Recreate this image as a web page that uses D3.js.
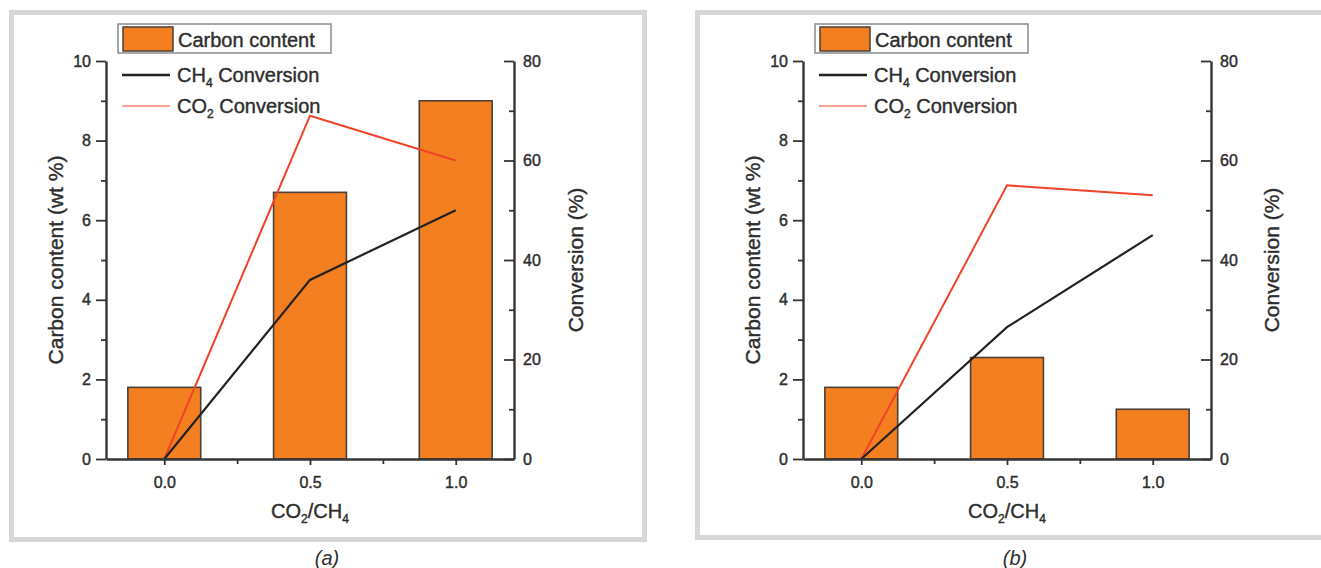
<!DOCTYPE html>
<html>
<head>
<meta charset="utf-8">
<script src="https://cdn.jsdelivr.net/npm/d3@7"></script>
<style>
  html, body { margin: 0; padding: 0; background: #ffffff; }
  svg { display: block; }
  text { font-family: "Liberation Sans", Arial, sans-serif; fill: #2e2e2e; }
</style>
</head>
<body>
<svg id="chart" width="1321" height="568"></svg>
<script>
// ---- data ----
const categories = [0.0, 0.5, 1.0];
const xTickLabels = ["0.0", "0.5", "1.0"];
const leftTicks = [0, 2, 4, 6, 8, 10];
const leftMinorTicks = [1, 3, 5, 7, 9];
const rightTicks = [0, 20, 40, 60, 80];
const rightMinorTicks = [10, 30, 50, 70];
const xMinorTicks = [0.25, 0.75];

const carbonA = [1.8, 6.7, 9.0];
const ch4A = [0, 36, 50];
const co2A = [0, 69, 60];

const carbonB = [1.8, 2.55, 1.25];
const ch4B = [0, 26.5, 45];
const co2B = [0, 55, 53];

const panels = [
  { carbon: carbonA, ch4: ch4A, co2: co2A, caption: "(a)" },
  { carbon: carbonB, ch4: ch4B, co2: co2B, caption: "(b)" }
];

// ---- layout ----
const svg = d3.select("#chart");
const ORANGE = "#f47f20";
const RED = "#f0432a";
const AXIS = "#353535";

const layouts = [
  { dx: 0,   frame: { x: 11.5, y: 12.5, w: 633, h: 527 }, captionX: 327, yTitleX: 56, rTitleX: 576 },
  { dx: 697, frame: { x: 697.5, y: 12.5, w: 640, h: 525 }, captionX: 1015, yTitleX: 753, rTitleX: 1272 }
];

panels.forEach((p, i) => {
  const L = layouts[i];
  const g = svg.append("g");

  // frame
  g.append("rect")
    .attr("x", L.frame.x).attr("y", L.frame.y)
    .attr("width", L.frame.w).attr("height", L.frame.h)
    .attr("fill", "none").attr("stroke", "#d7d7d7").attr("stroke-width", 5);

  const x = d3.scaleLinear().domain([-0.2, 1.2]).range([106 + L.dx, 514 + L.dx]);
  const yL = d3.scaleLinear().domain([0, 10]).range([459, 61]);
  const yR = d3.scaleLinear().domain([0, 80]).range([459, 61]);
  const barW = x(0.25) - x(0);

  // bars
  g.append("g").selectAll("rect").data(categories).join("rect")
    .attr("x", (d) => x(d) - barW / 2)
    .attr("y", (d, j) => yL(p.carbon[j]))
    .attr("width", barW)
    .attr("height", (d, j) => yL(0) - yL(p.carbon[j]))
    .attr("fill", ORANGE)
    .attr("stroke", "#4a4038").attr("stroke-width", 1.6);

  // lines
  const lineGen = (arr) => d3.line().x((d) => x(d)).y((d, j) => yR(arr[j]))(categories);
  g.append("path").attr("d", lineGen(p.co2))
    .attr("fill", "none").attr("stroke", RED).attr("stroke-width", 2);
  g.append("path").attr("d", lineGen(p.ch4))
    .attr("fill", "none").attr("stroke", "#222").attr("stroke-width", 2.2);

  // axes
  const styleAxis = (sel) => {
    sel.selectAll("path.domain").attr("stroke", AXIS).attr("stroke-width", 2.4);
    sel.selectAll(".tick line").attr("stroke", AXIS).attr("stroke-width", 1.8);
    sel.selectAll(".tick text").attr("font-size", 16).attr("fill", "#333")
      .attr("stroke", "#333").attr("stroke-width", 0.45)
      .attr("font-family", "Liberation Sans, Arial, sans-serif");
  };

  const gx = g.append("g").attr("transform", `translate(0,${yL(0)})`)
    .call(d3.axisBottom(x).tickValues(categories).tickFormat((d, j) => xTickLabels[j])
      .tickSize(6).tickSizeOuter(0).tickPadding(12));
  styleAxis(gx);
  const gxm = g.append("g").attr("transform", `translate(0,${yL(0)})`)
    .call(d3.axisBottom(x).tickValues(xMinorTicks).tickFormat("").tickSize(5).tickSizeOuter(0));
  gxm.select("path.domain").remove();
  styleAxis(gxm);

  const gyl = g.append("g").attr("transform", `translate(${x(-0.2)},0)`)
    .call(d3.axisLeft(yL).tickValues(leftTicks).tickFormat(d3.format("d"))
      .tickSize(10).tickSizeOuter(0).tickPadding(5));
  styleAxis(gyl);
  const gylm = g.append("g").attr("transform", `translate(${x(-0.2)},0)`)
    .call(d3.axisLeft(yL).tickValues(leftMinorTicks).tickFormat("").tickSize(5).tickSizeOuter(0));
  gylm.select("path.domain").remove();
  styleAxis(gylm);

  const gyr = g.append("g").attr("transform", `translate(${x(1.2)},0)`)
    .call(d3.axisRight(yR).tickValues(rightTicks).tickFormat(d3.format("d"))
      .tickSize(-10).tickSizeOuter(0).tickPadding(9));
  styleAxis(gyr);
  const gyrm = g.append("g").attr("transform", `translate(${x(1.2)},0)`)
    .call(d3.axisRight(yR).tickValues(rightMinorTicks).tickFormat("").tickSize(-5).tickSizeOuter(0));
  gyrm.select("path.domain").remove();
  styleAxis(gyrm);

  const heavy = (sel) => sel.attr("stroke", "#2e2e2e").attr("stroke-width", 0.4);

  // axis titles
  g.append("text")
    .attr("transform", `translate(${L.yTitleX + 7},260) rotate(-90)`)
    .attr("text-anchor", "middle").attr("font-size", 21)
    .call(heavy)
    .text("Carbon content (wt %)");
  g.append("text")
    .attr("transform", `translate(${L.rTitleX + 7},260) rotate(-90)`)
    .attr("text-anchor", "middle").attr("font-size", 21)
    .call(heavy)
    .text("Conversion (%)");

  const xt = g.append("text")
    .attr("x", x(0.5)).attr("y", 518)
    .attr("text-anchor", "middle").attr("font-size", 20).call(heavy);
  xt.append("tspan").text("CO");
  xt.append("tspan").attr("font-size", 12).attr("dy", 5).text("2");
  xt.append("tspan").attr("dy", -5).text("/CH");
  xt.append("tspan").attr("font-size", 12).attr("dy", 5).text("4");

  // legend
  const lx = 118 + L.dx;
  g.append("rect").attr("x", lx).attr("y", 24).attr("width", 213).attr("height", 29)
    .attr("fill", "#fff").attr("stroke", "#8a8a8a").attr("stroke-width", 1.5);
  g.append("rect").attr("x", lx + 5).attr("y", 27).attr("width", 50).attr("height", 24)
    .attr("fill", ORANGE).attr("stroke", "#4a4038").attr("stroke-width", 1.5);
  g.append("text").attr("x", lx + 60).attr("y", 47).attr("font-size", 20).call(heavy).text("Carbon content");

  g.append("line").attr("x1", lx + 4).attr("x2", lx + 52).attr("y1", 75).attr("y2", 75)
    .attr("stroke", "#222").attr("stroke-width", 2.4);
  const t1 = g.append("text").attr("x", lx + 59).attr("y", 82).attr("font-size", 20).call(heavy);
  t1.append("tspan").text("CH");
  t1.append("tspan").attr("font-size", 12).attr("dy", 5).text("4");
  t1.append("tspan").attr("dy", -5).text(" Conversion");

  g.append("line").attr("x1", lx + 4).attr("x2", lx + 52).attr("y1", 106).attr("y2", 106)
    .attr("stroke", RED).attr("stroke-width", 1);
  const t2 = g.append("text").attr("x", lx + 59).attr("y", 113).attr("font-size", 20).call(heavy);
  t2.append("tspan").text("CO");
  t2.append("tspan").attr("font-size", 12).attr("dy", 5).text("2");
  t2.append("tspan").attr("dy", -5).text(" Conversion");

  // caption
  svg.append("text").attr("x", L.captionX).attr("y", 565)
    .attr("text-anchor", "middle").attr("font-size", 20)
    .attr("font-style", "italic").attr("font-family", "Open Sans, sans-serif")
    .attr("fill", "#1e1e1e")
    .text(p.caption);
});
</script>
</body>
</html>
